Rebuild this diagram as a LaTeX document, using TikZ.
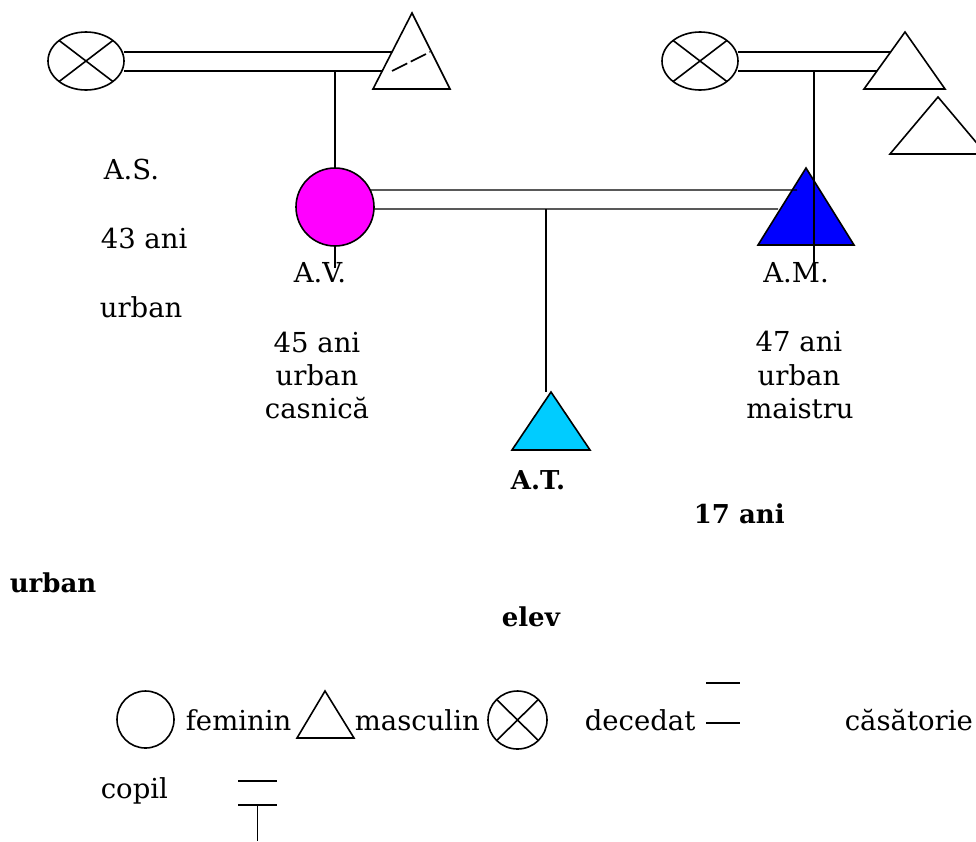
\documentclass[tikz,border=0pt]{standalone}
\usepackage{fontspec}
\setmainfont{DejaVu Serif}
\usetikzlibrary{shapes.geometric,calc}
\definecolor{femcol}{RGB}{255,0,255}
\definecolor{malecol}{RGB}{0,0,255}
\definecolor{childcol}{RGB}{0,204,255}
\begin{document}
\begin{tikzpicture}[x=1pt,y=-1pt,line width=1.6pt,
  lbl/.style={inner sep=0pt,font=\fontsize{27.5}{33}\selectfont},
  blbl/.style={inner sep=0pt,font=\fontsize{26}{31}\selectfont\bfseries},
  dead/.style={draw,ellipse,inner sep=0pt,outer sep=0pt,
    path picture={\draw (path picture bounding box.north west) -- (path picture bounding box.south east)
      (path picture bounding box.north east) -- (path picture bounding box.south west);}},
  femme/.style={draw,circle,inner sep=0pt,outer sep=0pt},
  tri/.style={draw,line join=miter},
  dashpart/.style={dash pattern=on 17pt off 4pt}]
\useasboundingbox (0,0) rectangle (976,841);

% --- paternal grandparents (left couple)
\node[dead,minimum width=76pt,minimum height=58pt] (gfL) at (86,61) {};
\coordinate (tlA) at (412,13);
\coordinate (tlL) at (373,89);
\coordinate (tlR) at (450,89);
\draw[tri,fill=white] (tlA) -- (tlL) -- (tlR) -- cycle;
\coordinate (tlU) at (392,52);
\coordinate (tlD) at (383,71);
\coordinate (tlDash) at (430,52);
\coordinate (tlDashS) at (392,71);
\draw (gfL.east |- tlU) -- (tlU);
\draw (gfL.east |- tlD) -- (tlD);
\draw[dashpart] (tlDashS) -- (tlDash);
\coordinate (tlDrop) at (335,71);

% --- maternal grandparents (right couple)
\node[dead,minimum width=76pt,minimum height=58pt] (gfR) at (700,61) {};
\coordinate (trA) at (905,32);
\coordinate (trL) at (864,89);
\coordinate (trR) at (945,89);
\draw[tri,fill=white] (trA) -- (trL) -- (trR) -- cycle;
\coordinate (trU) at (890,52);
\coordinate (trD) at (877,71);
\draw (gfR.east |- trU) -- (trU);
\draw (gfR.east |- trD) -- (trD);
\coordinate (t2A) at (938,97);
\coordinate (t2L) at (890,154);
\coordinate (t2R) at (986,154);
\draw[tri] (t2A) -- (t2L) -- (t2R) -- cycle;
\coordinate (trDrop) at (814,71);
\coordinate (trEnd) at (814,282);

% --- parents
\node[femme,fill=femcol,minimum size=78pt] (mother) at (335,207) {};
\coordinate (faA) at (806,168);
\coordinate (faL) at (758,245);
\coordinate (faR) at (854,245);
\draw[tri,fill=malecol] (faA) -- (faL) -- (faR) -- cycle;
\coordinate (mU) at (797,190);
\coordinate (mD) at (778,209);
\draw[line width=1.3pt] (mother.26) -- (mU);
\draw[line width=1.3pt] (mother.-3) -- (mD);
\draw (tlDrop) -- (mother.north);
\coordinate (mTail) at (335,268);
\draw (mother.south) -- (mTail);
\draw (trDrop) -- (trEnd);

% --- child
\coordinate (sib) at (546,209);
\coordinate (chTop) at (546,392);
\coordinate (chA) at (551,392);
\coordinate (chL) at (512,450);
\coordinate (chR) at (590,450);
\draw[tri,fill=childcol] (chA) -- (chL) -- (chR) -- cycle;
\draw (sib) -- (chTop);

% --- labels
\node[lbl,anchor=base west] (tAS) at (103,179) {A.S.};
\node[lbl,anchor=base west] (tAS2) at (100,248) {43 ani};
\node[lbl,anchor=base west] (tAS3) at (99,317) {urban};

\node[lbl,anchor=base] (tAV) at (320,282) {A.V.};
\node[lbl,anchor=base] (tAV2) at (317,352) {45 ani};
\node[lbl,anchor=base] (tAV3) at (317,385) {urban};
\node[lbl,anchor=base] (tAV4) at (317,418) {casnică};

\node[lbl,anchor=base] (tAM) at (796,282) {A.M.};
\node[lbl,anchor=base] (tAM2) at (799,351) {47 ani};
\node[lbl,anchor=base] (tAM3) at (799,385) {urban};
\node[lbl,anchor=base] (tAM4) at (800,418) {maistru};

\node[blbl,anchor=base] (tAT) at (538,489) {A.T.};
\node[blbl,anchor=base west] (tAT2) at (693,523) {17 ani};
\node[blbl,anchor=base west] (tAT3) at (9,592) {urban};
\node[blbl,anchor=base west] (tAT4) at (501,626) {elev};

% --- legend
\node[femme,minimum size=57pt] (lgF) at (145.5,719.5) {};
\node[lbl,anchor=base west] (lgFt) at (185,730) {feminin};
\coordinate (lgMA) at (325,691);
\coordinate (lgML) at (297,738);
\coordinate (lgMR) at (354,738);
\draw[tri] (lgMA) -- (lgML) -- (lgMR) -- cycle;
\node[lbl,anchor=base west] (lgMt) at (354,730) {masculin};
\node[dead,minimum width=59pt,minimum height=58pt] (lgD) at (517.5,720) {};
\node[lbl,anchor=base west] (lgDt) at (584,730) {decedat};
\coordinate (lgC1a) at (706,683);
\coordinate (lgC1b) at (740,683);
\coordinate (lgC2a) at (706,723);
\coordinate (lgC2b) at (740,723);
\draw (lgC1a) -- (lgC1b);
\draw (lgC2a) -- (lgC2b);
\node[lbl,anchor=base west] (lgCt) at (844,730) {căsătorie};
\node[lbl,anchor=base west] (lgKt) at (100,798) {copil};
\coordinate (lgK1a) at (238,781);
\coordinate (lgK1b) at (277,781);
\coordinate (lgK2a) at (238,805);
\coordinate (lgK2b) at (277,805);
\coordinate (lgK3) at (257.5,841);
\draw (lgK1a) -- (lgK1b);
\draw (lgK2a) -- (lgK2b);
\draw (lgK3 |- lgK2a) -- (lgK3);
\end{tikzpicture}
\end{document}
